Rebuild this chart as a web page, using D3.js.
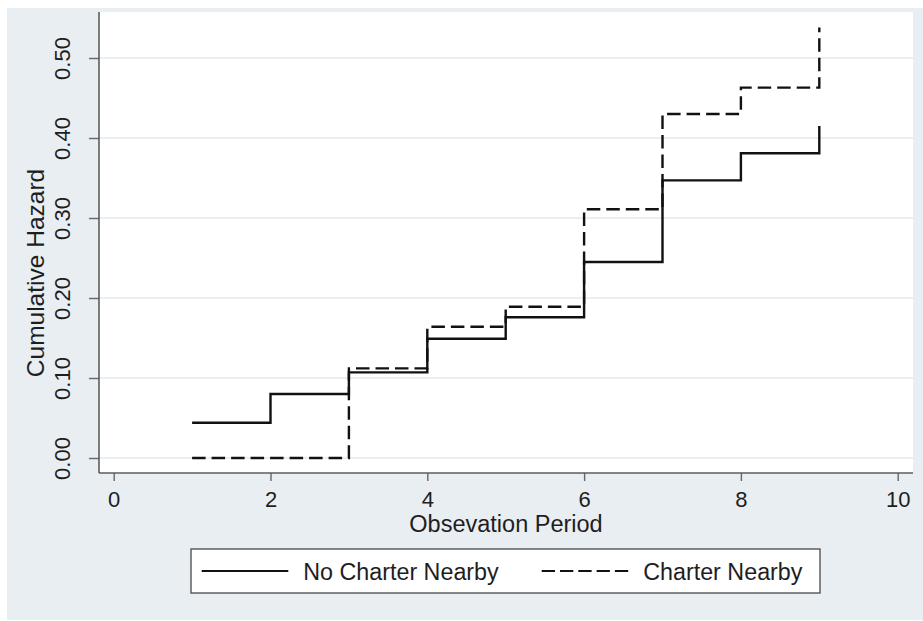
<!DOCTYPE html>
<html>
<head>
<meta charset="utf-8">
<script src="https://cdn.jsdelivr.net/npm/d3@7"></script>
<style>
  body { margin: 0; background: #fff; }
  svg { display: block; font-family: "Liberation Sans", Arial, Helvetica, sans-serif; }
  .tick text { fill: #1e1e1e; }
</style>
</head>
<body>
<svg id="chart" width="923" height="621"></svg>
<script>
// observation periods and cumulative hazard estimates
var periods = [1, 2, 3, 4, 5, 6, 7, 8, 9];
var noCharter = [0.044, 0.080, 0.107, 0.149, 0.176, 0.245, 0.347, 0.381, 0.415];
var charter = [0.000, 0.000, 0.112, 0.164, 0.189, 0.311, 0.430, 0.463, 0.538];

var xTicks = [0, 2, 4, 6, 8, 10];
var yTicks = [0, 0.1, 0.2, 0.3, 0.4, 0.5];

var seriesNames = ["No Charter Nearby", "Charter Nearby"];
var xTitle = "Obsevation Period",
    yTitle = "Cumulative Hazard";

var width = 923,
    height = 621,
    plot = { left: 99, right: 913, top: 12, bottom: 473 };

var svg = d3.select("#chart");

// graph region
svg.append("rect")
    .attr("x", 7).attr("y", 8)
    .attr("width", width - 7).attr("height", 612)
    .attr("fill", "#e8eef1");

svg.append("rect")
    .attr("x", plot.left).attr("y", plot.top)
    .attr("width", plot.right - plot.left).attr("height", plot.bottom - plot.top)
    .attr("fill", "#fff");

var x = d3.scaleLinear()
    .domain([0, 10])
    .range([113.7, 897.7]);

var y = d3.scaleLinear()
    .domain([0, 0.5])
    .range([458, 58]);

// horizontal grid lines
svg.append("g")
  .selectAll("line")
  .data(yTicks)
  .enter().append("line")
    .attr("x1", plot.left).attr("x2", plot.right)
    .attr("y1", function (d) { return y(d); })
    .attr("y2", function (d) { return y(d); })
    .attr("stroke", "#e2eaee")
    .attr("stroke-width", 1.6);

// axes
var xAxis = svg.append("g")
    .attr("transform", "translate(0," + plot.bottom + ")")
    .call(d3.axisBottom(x).tickValues(xTicks).tickSize(8).tickPadding(10).tickSizeOuter(0));

xAxis.select(".domain").remove();
xAxis.selectAll(".tick line").attr("stroke", "#666").attr("stroke-width", 1.4);
xAxis.selectAll(".tick text").attr("font-size", 22).attr("dy", "0.71em");

var yAxis = svg.append("g")
    .attr("transform", "translate(" + plot.left + ",0)")
    .call(d3.axisLeft(y).tickValues(yTicks).tickSize(10).tickFormat(d3.format(".2f")));

yAxis.select(".domain").remove();
yAxis.selectAll(".tick line").attr("stroke", "#666").attr("stroke-width", 1.4);
yAxis.selectAll(".tick text")
    .attr("font-size", 22)
    .attr("transform", "rotate(-90)")
    .attr("x", 0)
    .attr("y", -29)
    .attr("dy", 0)
    .attr("text-anchor", "middle");

// axis lines
svg.append("line")
    .attr("x1", plot.left).attr("x2", plot.right)
    .attr("y1", plot.bottom).attr("y2", plot.bottom)
    .attr("stroke", "#5c5c5c").attr("stroke-width", 1.6);

svg.append("line")
    .attr("x1", plot.left).attr("x2", plot.left)
    .attr("y1", plot.top).attr("y2", plot.bottom)
    .attr("stroke", "#5c5c5c").attr("stroke-width", 1.6);

// step curves
var line = d3.line()
    .curve(d3.curveStepAfter)
    .x(function (d) { return x(d[0]); })
    .y(function (d) { return y(d[1]); });

var series = [
    { name: seriesNames[0], values: d3.zip(periods, noCharter), dash: null },
    { name: seriesNames[1], values: d3.zip(periods, charter), dash: "13.5,6" }
];

svg.append("g")
  .selectAll("path")
  .data(series)
  .enter().append("path")
    .attr("d", function (d) { return line(d.values); })
    .attr("fill", "none")
    .attr("stroke", "#111")
    .attr("stroke-width", 2.4)
    .attr("stroke-dasharray", function (d) { return d.dash; });

// axis titles
svg.append("text")
    .attr("x", (plot.left + plot.right) / 2)
    .attr("y", 532)
    .attr("text-anchor", "middle")
    .attr("font-size", 23.5)
    .attr("fill", "#1e1e1e")
    .text(xTitle);

svg.append("text")
    .attr("transform", "translate(44,273)rotate(-90)")
    .attr("text-anchor", "middle")
    .attr("font-size", 24.5)
    .attr("fill", "#1e1e1e")
    .text(yTitle);

// legend
var legend = svg.append("g");

legend.append("rect")
    .attr("x", 191).attr("y", 549)
    .attr("width", 629).attr("height", 44)
    .attr("fill", "#fff")
    .attr("stroke", "#555")
    .attr("stroke-width", 1.4);

var keyX = [201.7, 541.7];

var key = legend.selectAll(".key")
    .data(series)
  .enter().append("g")
    .attr("class", "key")
    .attr("transform", function (d, i) { return "translate(" + keyX[i] + ",0)"; });

key.append("line")
    .attr("x1", 0).attr("x2", 86.6)
    .attr("y1", 571).attr("y2", 571)
    .attr("stroke", "#111")
    .attr("stroke-width", 2.2)
    .attr("stroke-dasharray", function (d) { return d.dash ? "13.3,5" : null; });

key.append("text")
    .attr("x", 101.5)
    .attr("y", 580)
    .attr("font-size", 23.3)
    .attr("fill", "#1e1e1e")
    .text(function (d) { return d.name; });
</script>
</body>
</html>
